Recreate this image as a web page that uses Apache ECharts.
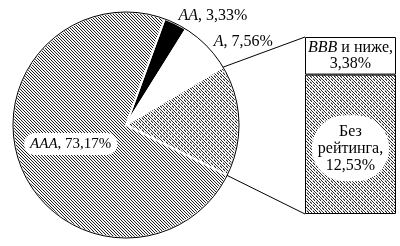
<!DOCTYPE html>
<html>
<head>
<meta charset="utf-8">
<script src="https://cdn.jsdelivr.net/npm/echarts@6/dist/echarts.min.js"></script>
<style>
html,body{margin:0;padding:0;background:#fff;}
#c{width:400px;height:246px;}
</style>
</head>
<body>
<div id="c"></div>
<script>
// Data
const pieNames = ['AA', 'A', 'Прочие', 'AAA'];
const pieShares = [3.33, 7.56, null, 73.17];
const barNames = ['Без рейтинга', 'BBB и ниже'];
const barShares = [12.53, 3.38];
const otherShare = barShares[0] + barShares[1];

const FONT = '"Liberation Serif", "Times New Roman", serif';

function fmt(v) { return v.toFixed(2).replace('.', ','); }

function makePattern(kind) {
  const c = document.createElement('canvas');
  const s = kind === 'hatch' ? 3 : 6;
  c.width = s; c.height = s;
  const ctx = c.getContext('2d');
  const img = ctx.createImageData(s, s);
  for (let y = 0; y < s; y++) {
    for (let x = 0; x < s; x++) {
      let v = 255;
      const d = ((x - y) % 3 + 3) % 3;
      if (kind === 'hatch') {
        if (d === 0) v = 30; else if (d === 1) v = 240;
      } else {
        const e = ((x + y) % 6 + 6) % 6;
        if (d === 0 && e !== 0) v = 40;
        if (d === 0 && e === 0) v = 200;
        if (d === 1 && (e === 1 || e === 3)) v = 170;
      }
      const i = (y * s + x) * 4;
      img.data[i] = v; img.data[i + 1] = v; img.data[i + 2] = v; img.data[i + 3] = 255;
    }
  }
  ctx.putImageData(img, 0, 0);
  return { image: c, repeat: 'repeat' };
}

const hatch = makePattern('hatch');
const dots = makePattern('dots');

const pieColors = ['#000000', '#ffffff', dots, hatch];
const pieData = pieNames.map((n, i) => {
  const item = {
    name: n,
    value: pieShares[i] === null ? otherShare : pieShares[i],
    itemStyle: { color: pieColors[i] }
  };
  if (n === 'AAA') {
    item.label = {
      position: 'inside',
      backgroundColor: '#fff',
      borderRadius: 12,
      padding: [4, 6, 3, 6],
      rich: {
        i: { fontFamily: FONT, fontSize: 15, fontStyle: 'italic', color: '#000' },
        n: { fontFamily: FONT, fontSize: 15, color: '#000' }
      }
    };
  }
  return item;
});

const rich = {
  i: { fontFamily: FONT, fontSize: 16, fontStyle: 'italic', color: '#000' },
  n: { fontFamily: FONT, fontSize: 16, color: '#000' }
};

const chart = echarts.init(document.getElementById('c'), null, { renderer: 'canvas' });

const option = {
  animation: false,
  backgroundColor: '#fff',
  grid: { left: 305, top: 37, width: 91, height: 177 },
  xAxis: { type: 'category', data: ['bar'], show: false },
  yAxis: { type: 'value', min: 0, max: otherShare, show: false },
  series: [
    {
      type: 'pie',
      center: [126, 125],
      radius: 113,
      startAngle: 70,
      clockwise: true,
      silent: true,
      avoidLabelOverlap: false,
      emphasis: { disabled: true },
      itemStyle: { borderColor: '#fff', borderWidth: 2 },
      labelLine: { show: false, length: 0, length2: 0 },
      data: pieData,
      label: {
        show: true,
        fontFamily: FONT,
        fontSize: 16,
        color: '#000',
        rich: rich,
        formatter: function (p) {
          if (p.dataIndex === 2) return '';
          return '{i|' + p.name + '}{n|, ' + fmt(p.value) + '%}';
        }
      },
      labelLayout: function (p) {
        if (p.dataIndex === 0) return { dx: -1, dy: -4 };
        if (p.dataIndex === 1) return { dx: 1, dy: -2 };
        if (p.dataIndex === 3) return { dx: 0, dy: -1.5 };
        return {};
      }
    },
    {
      type: 'pie',
      center: [126, 125],
      radius: 113,
      silent: true,
      z: 3,
      emphasis: { disabled: true },
      label: { show: false },
      labelLine: { show: false },
      itemStyle: { color: 'rgba(0,0,0,0)', borderColor: '#000', borderWidth: 1 },
      data: [{ name: 'outline', value: 100 }]
    },
    {
      type: 'bar',
      name: barNames[0],
      stack: 's',
      barWidth: '100%',
      silent: true,
      data: [barShares[0]],
      itemStyle: { color: dots, borderColor: '#000', borderWidth: 1 },
      label: {
        show: true,
        position: 'inside',
        offset: [0, 4],
        fontFamily: FONT,
        fontSize: 16,
        lineHeight: 17,
        color: '#000',
        backgroundColor: '#fff',
        borderRadius: 34,
        padding: [8, 6, 7, 6],
        formatter: function () { return 'Без\nрейтинга,\n' + fmt(barShares[0]) + '%'; }
      }
    },
    {
      type: 'bar',
      name: barNames[1],
      stack: 's',
      barWidth: '100%',
      silent: true,
      data: [barShares[1]],
      itemStyle: { color: '#fff', borderColor: '#000', borderWidth: 1 },
      label: {
        show: true,
        position: 'inside',
        lineHeight: 16,
        rich: {
          i: { fontFamily: FONT, fontSize: 16, fontStyle: 'italic', color: '#000', lineHeight: 16 },
          n: { fontFamily: FONT, fontSize: 16, color: '#000', lineHeight: 16 }
        },
        formatter: function () { return '{i|BBB}{n| и ниже,}\n{n|' + fmt(barShares[1]) + '%}'; }
      }
    }
  ]
};

chart.setOption(option);

// connector lines computed from rendered layouts
(function () {
  const model = chart.getModel();
  const pieLayout = model.getSeriesByIndex(0).getData().getItemLayout(2);
  const lowBar = model.getSeriesByIndex(2).getData().getItemLayout(0);
  const topBar = model.getSeriesByIndex(3).getData().getItemLayout(0);
  const cx = pieLayout.cx, cy = pieLayout.cy, r = pieLayout.r;
  const a1 = pieLayout.startAngle, a2 = pieLayout.endAngle;
  const p1 = [cx + r * Math.cos(a1), cy + r * Math.sin(a1)];
  const p2 = [cx + r * Math.cos(a2), cy + r * Math.sin(a2)];
  const barLeft = Math.min(topBar.x, topBar.x + topBar.width);
  const barTop = Math.min(topBar.y, topBar.y + topBar.height);
  const barBottom = Math.max(lowBar.y, lowBar.y + lowBar.height);
  const upper = p1[1] < p2[1] ? p1 : p2;
  const lower = p1[1] < p2[1] ? p2 : p1;
  chart.setOption({
    graphic: [
      { type: 'line', z: 10, silent: true, shape: { x1: upper[0], y1: upper[1], x2: barLeft, y2: barTop }, style: { stroke: '#000', lineWidth: 1 } },
      { type: 'line', z: 10, silent: true, shape: { x1: lower[0], y1: lower[1], x2: barLeft, y2: barBottom }, style: { stroke: '#000', lineWidth: 1 } }
    ]
  });
})();
</script>
</body>
</html>
